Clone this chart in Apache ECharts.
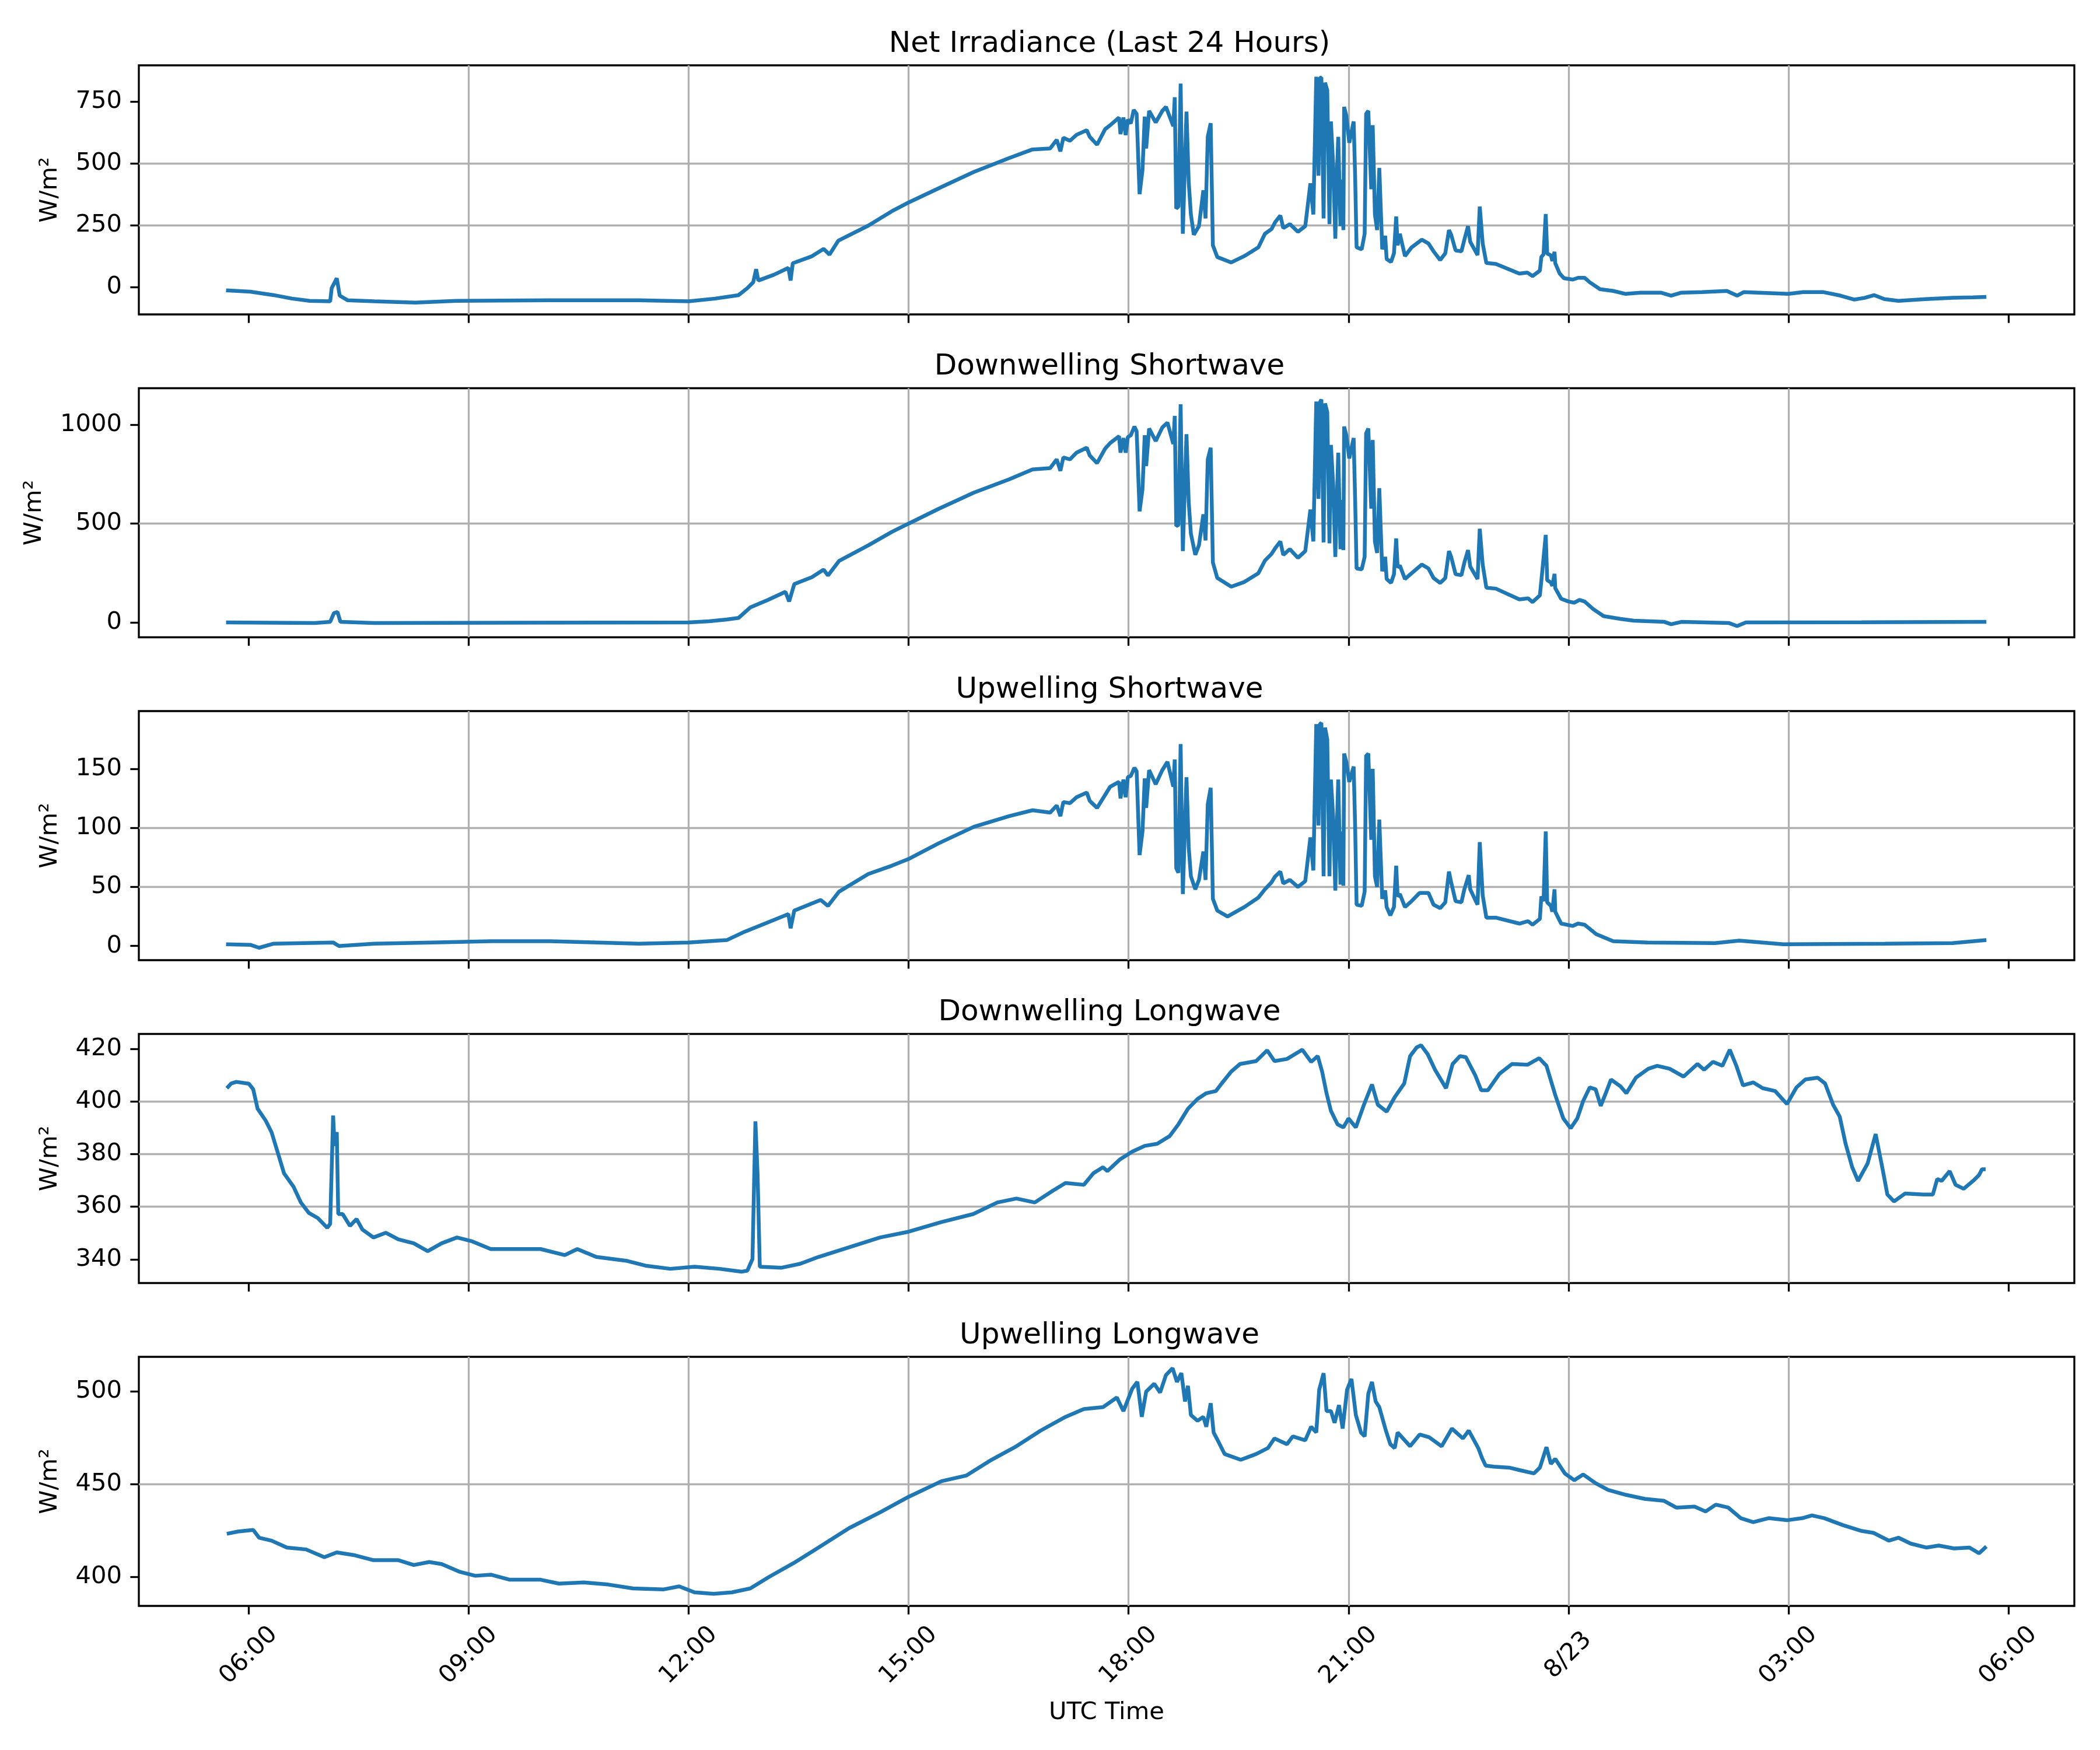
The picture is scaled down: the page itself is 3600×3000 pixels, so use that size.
<!DOCTYPE html>
<html>
<head>
<meta charset="utf-8">
<script src="https://cdn.jsdelivr.net/npm/echarts@6/dist/echarts.min.js"></script>
<style>
html, body { margin: 0; padding: 0; background: #fff; }
#chart { width: 3600px; height: 3000px; }
</style>
</head>
<body>
<div id="chart"></div>
<script>
// every point is [hours since 8/22 00:00 UTC, W/m²]
const netIrradiance = [
    [5.69,-14],[6.02,-19],[6.34,-33],[6.59,-47],[6.83,-56],[7.11,-58],[7.13,-5],[7.20,35],[7.24,-35],[7.35,-54],
    [7.71,-58],[8.27,-63],[8.83,-56],[10.1,-54],[11.32,-54],[12.0,-58],[12.36,-47],[12.68,-33],[12.80,-5],[12.88,19],
    [12.92,72],[12.95,26],[13.16,49],[13.36,77],[13.39,26],[13.42,96],[13.68,124],[13.84,154],[13.92,131],[14.04,187],
    [14.45,248],[14.77,306],[15.01,343],[15.41,399],[15.89,465],[16.37,521],[16.69,556],[16.93,560],[17.02,595],[17.07,548],
    [17.11,603],[17.2,591],[17.29,615],[17.43,634],[17.47,607],[17.57,575],[17.68,638],[17.75,654],[17.87,685],[17.89,618],
    [17.93,685],[17.96,614],[17.99,677],[18.03,661],[18.07,716],[18.11,700],[18.15,375],[18.19,473],[18.22,689],[18.24,560],
    [18.28,712],[18.37,665],[18.46,712],[18.51,728],[18.61,650],[18.63,767],[18.65,317],[18.68,325],[18.71,822],[18.74,215],
    [18.79,709],[18.82,426],[18.85,293],[18.89,211],[18.96,246],[19.02,391],[19.05,277],[19.08,607],[19.12,662],[19.15,168],
    [19.21,121],[19.40,99],[19.58,125],[19.77,160],[19.86,215],[19.95,234],[20.0,262],[20.07,289],[20.11,238],[20.2,254],
    [20.31,223],[20.41,246],[20.48,419],[20.52,293],[20.56,850],[20.59,450],[20.61,846],[20.63,846],[20.66,277],[20.68,826],
    [20.71,795],[20.74,254],[20.76,669],[20.79,497],[20.82,195],[20.84,450],[20.86,607],[20.89,246],[20.91,434],[20.93,230],
    [20.94,728],[20.97,693],[21.01,583],[21.07,669],[21.09,450],[21.11,160],[21.18,152],[21.22,215],[21.24,700],[21.27,712],
    [21.31,395],[21.33,654],[21.36,293],[21.39,230],[21.42,481],[21.46,152],[21.5,207],[21.52,113],[21.58,101],[21.62,136],
    [21.65,285],[21.67,168],[21.7,215],[21.77,125],[21.86,160],[22.0,191],[22.09,176],[22.16,144],[22.25,109],[22.32,136],
    [22.37,230],[22.4,211],[22.46,148],[22.54,144],[22.58,191],[22.63,246],[22.66,183],[22.76,129],[22.79,325],[22.83,176],
    [22.88,97],[23.01,93],[23.33,54],[23.44,58],[23.51,44],[23.61,66],[23.63,121],[23.66,132],[23.69,295],[23.71,135],
    [23.76,128],[23.78,105],[23.81,142],[23.82,96],[23.88,54],[23.94,35],[24.06,30],[24.13,37],[24.22,37],[24.29,19],
    [24.43,-9],[24.61,-16],[24.78,-28],[24.98,-23],[25.26,-23],[25.40,-35],[25.54,-23],[25.82,-21],[26.16,-16],[26.30,-35],
    [26.39,-21],[27.0,-28],[27.2,-21],[27.48,-21],[27.71,-35],[27.9,-51],[28.04,-44],[28.17,-33],[28.31,-49],[28.5,-56],
    [28.87,-49],[29.24,-44],[29.52,-42],[29.70,-40]
];
const downShortwave = [
    [5.69,0],[6.9,-3],[7.11,3],[7.16,47],[7.21,53],[7.25,3],[7.71,-3],[9.5,-1],[12.0,0],[12.28,6],
    [12.52,15],[12.68,23],[12.84,76],[13.08,114],[13.32,155],[13.37,106],[13.44,194],[13.68,229],[13.84,267],[13.90,238],
    [14.05,311],[14.45,390],[14.77,458],[15.01,502],[15.41,575],[15.89,657],[16.37,724],[16.69,774],[16.93,781],[17.02,825],
    [17.07,767],[17.11,835],[17.20,825],[17.29,859],[17.43,884],[17.47,845],[17.57,806],[17.68,879],[17.75,908],[17.87,942],
    [17.89,859],[17.93,933],[17.96,859],[17.99,938],[18.03,947],[18.08,991],[18.11,967],[18.15,562],[18.19,674],[18.22,947],
    [18.24,791],[18.28,981],[18.37,918],[18.46,986],[18.53,1011],[18.61,903],[18.63,1045],[18.65,488],[18.68,493],[18.71,1104],
    [18.74,361],[18.79,952],[18.82,610],[18.85,449],[18.91,342],[18.96,391],[19.02,547],[19.05,415],[19.08,825],[19.12,884],
    [19.15,303],[19.21,225],[19.40,181],[19.58,205],[19.77,249],[19.86,313],[19.95,347],[20.0,376],[20.07,410],[20.11,342],
    [20.2,371],[20.31,327],[20.41,361],[20.48,571],[20.52,410],[20.56,1118],[20.59,625],[20.61,1113],[20.63,1128],[20.66,405],
    [20.68,1108],[20.71,1064],[20.74,400],[20.76,898],[20.79,703],[20.82,332],[20.84,615],[20.86,859],[20.89,371],[20.91,620],
    [20.93,366],[20.94,991],[20.97,947],[21.01,830],[21.07,933],[21.09,625],[21.11,273],[21.18,269],[21.22,332],[21.24,957],
    [21.27,981],[21.31,576],[21.33,923],[21.36,410],[21.39,352],[21.42,679],[21.46,259],[21.5,332],[21.52,220],[21.58,200],
    [21.62,244],[21.65,425],[21.67,278],[21.70,288],[21.77,220],[21.86,249],[22.0,293],[22.09,273],[22.16,225],[22.25,200],
    [22.32,225],[22.37,361],[22.40,332],[22.46,244],[22.54,239],[22.58,303],[22.63,366],[22.66,283],[22.76,220],[22.79,474],
    [22.83,293],[22.88,176],[23.01,171],[23.33,117],[23.45,122],[23.51,103],[23.61,137],[23.63,210],[23.69,443],[23.71,214],
    [23.76,202],[23.78,185],[23.81,246],[23.82,173],[23.90,120],[24.0,106],[24.08,100],[24.15,114],[24.22,106],[24.34,67],
    [24.48,32],[24.71,18],[24.89,9],[25.31,3],[25.40,-9],[25.54,3],[26.19,-3],[26.30,-18],[26.42,0],[28.0,1],
    [29.70,3]
];
const upShortwave = [
    [5.69,1.5],[6.02,1],[6.14,-1.5],[6.34,2],[7.15,3],[7.23,0],[7.71,2],[8.5,3],[9.31,4],[10.11,4],
    [11.32,2],[12.0,3],[12.52,5],[12.76,12],[13.08,20],[13.36,27],[13.39,15],[13.44,30],[13.80,39],[13.90,34],
    [14.05,46],[14.45,61],[14.77,68],[15.01,74],[15.41,87],[15.89,101],[16.37,110],[16.69,115],[16.93,113],[17.02,119],
    [17.07,110],[17.11,122],[17.20,121],[17.29,126],[17.43,130],[17.47,123],[17.57,117],[17.68,128],[17.75,135],[17.87,139],
    [17.89,125],[17.93,141],[17.96,126],[17.99,143],[18.03,144],[18.08,151],[18.11,148],[18.15,77],[18.19,97],[18.22,142],
    [18.24,117],[18.28,149],[18.37,137],[18.46,149],[18.53,156],[18.61,135],[18.63,158],[18.65,66],[18.68,62],[18.71,171],
    [18.74,44],[18.79,143],[18.82,84],[18.85,59],[18.91,48],[18.96,56],[19.02,80],[19.05,56],[19.08,120],[19.12,134],
    [19.15,40],[19.21,30],[19.35,25],[19.58,33],[19.77,41],[19.86,48],[19.95,54],[20.0,59],[20.07,63],[20.11,53],
    [20.2,56],[20.31,50],[20.41,55],[20.48,92],[20.52,64],[20.56,188],[20.59,102],[20.61,188],[20.63,189],[20.66,59],
    [20.68,185],[20.71,175],[20.74,59],[20.76,141],[20.79,110],[20.82,47],[20.84,99],[20.86,141],[20.89,52],[20.91,97],
    [20.93,51],[20.94,163],[20.97,156],[21.01,139],[21.07,152],[21.09,102],[21.11,35],[21.18,34],[21.22,46],[21.24,161],
    [21.27,163],[21.31,90],[21.33,150],[21.36,59],[21.39,50],[21.42,107],[21.46,40],[21.5,47],[21.52,33],[21.57,26],
    [21.62,33],[21.65,68],[21.67,42],[21.70,44],[21.77,33],[21.86,38],[21.97,45],[22.09,45],[22.16,35],[22.25,32],
    [22.32,37],[22.37,63],[22.40,54],[22.46,38],[22.54,37],[22.58,48],[22.64,60],[22.66,48],[22.76,35],[22.79,88],
    [22.83,43],[22.88,24],[23.01,24],[23.33,19],[23.45,21],[23.51,18],[23.61,23],[23.63,42],[23.66,38],[23.69,97],
    [23.71,37],[23.76,34],[23.78,29],[23.81,48],[23.82,29],[23.90,19],[24.06,17],[24.13,19],[24.22,18],[24.38,10],
    [24.61,4],[25.08,3],[26.0,2.5],[26.33,4.5],[26.93,1.5],[28.32,2],[29.24,2.5],[29.70,5]
];
const downLongwave = [
    [5.70,405.0],[5.76,406.8],[5.83,407.4],[6.0,406.7],[6.06,404.6],[6.12,397.2],[6.23,392.7],[6.31,388.3],[6.40,380.1],[6.48,372.7],
    [6.61,367.6],[6.71,361.6],[6.82,357.6],[6.94,355.7],[7.07,352.0],[7.11,353.5],[7.15,394.6],[7.17,383.1],[7.20,388.3],[7.22,357.2],
    [7.28,357.2],[7.38,352.7],[7.47,355.3],[7.55,351.3],[7.70,348.3],[7.87,350.1],[8.04,347.6],[8.25,346.1],[8.44,343.1],[8.63,346.1],
    [8.84,348.3],[9.05,346.8],[9.30,343.9],[9.56,343.9],[9.98,343.9],[10.31,341.6],[10.48,343.9],[10.74,340.9],[11.16,339.4],[11.41,337.6],
    [11.75,336.4],[12.08,337.2],[12.42,336.4],[12.72,335.3],[12.80,335.7],[12.87,340.1],[12.91,392.4],[12.94,372.0],[12.97,337.2],[13.26,336.8],
    [13.52,338.3],[13.77,340.9],[14.19,344.6],[14.61,348.3],[15.0,350.5],[15.45,354.2],[15.88,357.2],[16.21,361.6],[16.47,363.1],[16.72,361.6],
    [16.97,366.1],[17.14,369.0],[17.39,368.3],[17.52,372.7],[17.65,375.0],[17.71,373.5],[17.88,377.9],[18.05,380.9],[18.22,383.1],[18.39,383.9],
    [18.56,386.8],[18.68,391.3],[18.81,397.2],[18.94,400.9],[19.06,403.1],[19.19,403.9],[19.27,406.8],[19.40,411.3],[19.52,414.2],[19.74,415.3],
    [19.89,419.4],[19.99,415.3],[20.16,416.1],[20.37,419.6],[20.49,415.0],[20.58,417.2],[20.64,411.3],[20.70,403.1],[20.76,396.4],[20.85,391.3],
    [20.93,390.1],[21.0,393.5],[21.10,390.1],[21.21,398.7],[21.32,406.4],[21.40,398.7],[21.52,396.1],[21.63,401.6],[21.76,406.8],[21.84,417.2],
    [21.93,420.5],[21.99,421.3],[22.08,417.9],[22.18,412.0],[22.33,405.0],[22.42,414.2],[22.52,417.2],[22.60,416.8],[22.73,409.8],[22.81,404.2],
    [22.90,404.2],[23.06,410.5],[23.23,414.2],[23.44,413.9],[23.60,416.4],[23.70,413.5],[23.82,402.4],[23.93,393.5],[24.03,389.8],[24.12,393.5],
    [24.20,400.1],[24.29,405.3],[24.37,404.6],[24.44,398.3],[24.52,403.9],[24.58,408.3],[24.71,405.7],[24.79,403.1],[24.92,409.0],[25.09,412.4],
    [25.21,413.5],[25.38,412.4],[25.57,409.4],[25.76,414.2],[25.85,412.0],[25.97,415.0],[26.10,413.5],[26.20,419.6],[26.29,413.5],[26.38,406.1],
    [26.52,407.2],[26.65,405.0],[26.82,403.9],[26.98,399.0],[27.11,405.3],[27.23,408.3],[27.40,409.0],[27.50,406.8],[27.61,398.7],[27.70,394.2],
    [27.78,383.9],[27.87,375.0],[27.95,369.8],[28.08,376.4],[28.19,387.6],[28.29,373.5],[28.35,364.6],[28.44,362.0],[28.59,365.0],[28.84,364.6],
    [28.97,364.6],[29.03,370.5],[29.09,369.8],[29.20,373.5],[29.28,368.3],[29.39,366.8],[29.52,369.8],[29.60,372.0],[29.64,374.2],[29.69,374.2]
];
const upLongwave = [
    [5.70,423.3],[5.85,424.5],[6.06,425.4],[6.14,421.2],[6.31,419.6],[6.52,415.9],[6.78,414.9],[7.03,410.7],[7.20,413.3],[7.45,411.7],
    [7.70,409.1],[8.04,409.1],[8.25,406.5],[8.46,408.1],[8.63,407.0],[8.88,402.8],[9.09,400.7],[9.30,401.3],[9.56,398.6],[9.98,398.6],
    [10.23,396.5],[10.57,397.1],[10.90,396.0],[11.24,393.9],[11.66,393.4],[11.87,395.0],[12.08,391.8],[12.34,391.0],[12.59,391.8],[12.84,393.9],
    [13.10,400.2],[13.43,407.5],[13.77,415.9],[14.19,426.4],[14.61,434.8],[15.0,443.2],[15.45,451.6],[15.79,454.7],[16.13,463.1],[16.47,470.4],
    [16.80,478.8],[17.14,486.2],[17.39,490.4],[17.65,491.4],[17.84,496.6],[17.93,489.3],[18.05,501.4],[18.12,505.0],[18.18,486.2],[18.24,499.8],
    [18.35,504.0],[18.43,499.3],[18.51,508.7],[18.60,512.4],[18.66,505.0],[18.72,509.7],[18.77,494.5],[18.81,502.9],[18.85,487.2],[18.94,484.1],
    [19.02,486.2],[19.06,480.9],[19.12,493.5],[19.16,477.8],[19.23,472.5],[19.31,466.2],[19.53,463.1],[19.74,466.2],[19.90,469.4],[19.99,474.6],
    [20.16,471.5],[20.24,475.7],[20.41,473.6],[20.49,480.9],[20.56,477.8],[20.60,500.8],[20.66,509.7],[20.70,489.3],[20.76,489.3],[20.81,483.0],
    [20.87,492.5],[20.92,479.9],[20.98,500.8],[21.04,506.6],[21.10,487.2],[21.17,477.8],[21.22,475.7],[21.27,498.7],[21.32,505.0],[21.37,494.5],
    [21.42,491.4],[21.51,478.8],[21.57,471.5],[21.63,469.4],[21.67,477.8],[21.84,470.4],[21.97,476.7],[22.10,475.2],[22.27,470.4],[22.41,479.9],
    [22.56,474.6],[22.64,478.8],[22.77,469.4],[22.82,464.2],[22.87,460.0],[22.98,459.4],[23.19,458.9],[23.36,457.3],[23.53,455.8],[23.61,458.9],
    [23.70,469.9],[23.76,460.9],[23.82,463.6],[23.95,455.8],[24.08,452.1],[24.20,455.2],[24.37,450.5],[24.54,446.9],[24.79,444.2],[25.04,442.1],
    [25.30,441.1],[25.47,437.4],[25.72,437.9],[25.87,435.3],[26.01,439.0],[26.18,437.4],[26.35,431.7],[26.52,429.6],[26.73,431.7],[26.98,430.6],
    [27.19,431.7],[27.32,433.2],[27.49,431.7],[27.74,428.0],[28.00,424.8],[28.16,423.8],[28.37,419.6],[28.50,421.2],[28.67,418.0],[28.88,415.9],
    [29.05,417.0],[29.26,415.4],[29.47,415.9],[29.60,412.8],[29.70,416.5]
];

const panelTitles = ['Net Irradiance (Last 24 Hours)', 'Downwelling Shortwave', 'Upwelling Shortwave', 'Downwelling Longwave', 'Upwelling Longwave'];
const panelData = [netIrradiance, downShortwave, upShortwave, downLongwave, upLongwave];
const yRanges = [[-111, 896], [-75, 1185], [-12, 199], [331, 425.6], [384.5, 518.5]];
const yTicks = [[0, 250, 500, 750], [0, 500, 1000], [0, 50, 100, 150], [340, 360, 380, 400, 420], [400, 450, 500]];
const timeTicks = [6, 9, 12, 15, 18, 21, 24, 27, 30];
const timeRange = [4.5, 30.9];

const FONT = 'DejaVu Sans';
const gridTops = [112, 665.5, 1219, 1772.5, 2326];
const gridLeft = 238, gridWidth = 3318, gridHeight = 427;

function timeLabel(v) {
    let h = Math.round(v);
    if (h % 24 === 0) return '8/' + (22 + h / 24);
    h = h % 24;
    return (h < 10 ? '0' : '') + h + ':00';
}

let grids = [], xAxes = [], yAxes = [], series_list = [], titles = [];
for (let i = 0; i < 5; i++) {
    let isLast = (i === 4);
    grids.push({
        left: gridLeft, top: gridTops[i], width: gridWidth, height: gridHeight,
        show: true, borderColor: '#000', borderWidth: 3.3, backgroundColor: 'transparent'
    });
    titles.push({
        text: panelTitles[i],
        left: gridLeft + gridWidth / 2,
        top: gridTops[i] - 66,
        textAlign: 'center',
        textStyle: { fontSize: 50, lineHeight: 50, fontWeight: 'normal', color: '#000', fontFamily: FONT }
    });
    xAxes.push({
        type: 'value', gridIndex: i, position: 'bottom',
        min: timeRange[0], max: timeRange[1],
        minInterval: 3, maxInterval: 3,
        axisLine: { show: false, onZero: false },
        axisTick: { show: true, inside: false, length: 14.6, customValues: timeTicks, lineStyle: { color: '#000', width: 3.3 } },
        axisLabel: {
            show: isLast, customValues: timeTicks, rotate: 45, align: 'center', verticalAlign: 'middle',
            margin: 85, fontSize: 41.7, color: '#000', fontFamily: FONT,
            formatter: timeLabel
        },
        splitLine: { show: true, showMinLine: false, showMaxLine: false, lineStyle: { color: '#b0b0b0', width: 3.3 } },
        name: isLast ? 'UTC Time' : '',
        nameLocation: 'middle', nameGap: 162,
        nameTextStyle: { fontSize: 41.7, color: '#000', fontFamily: FONT }
    });
    let step = yTicks[i][1] - yTicks[i][0];
    yAxes.push({
        type: 'value', gridIndex: i, position: 'left',
        min: yRanges[i][0], max: yRanges[i][1],
        minInterval: step, maxInterval: step,
        axisLine: { show: false, onZero: false },
        axisTick: { show: true, inside: false, length: 14.6, customValues: yTicks[i], lineStyle: { color: '#000', width: 3.3 } },
        axisLabel: {
            customValues: yTicks[i], margin: 29, fontSize: 41.7, color: '#000', fontFamily: FONT,
            formatter: function (v) { return String(v); }
        },
        splitLine: { show: true, showMinLine: false, showMaxLine: false, lineStyle: { color: '#b0b0b0', width: 3.3 } },
        name: 'W/m²', nameLocation: 'middle', nameRotate: 90,
        nameGap: i === 1 ? 158 : 131,
        nameTextStyle: { fontSize: 41.7, color: '#000', fontFamily: FONT }
    });
    series_list.push({
        type: 'line', xAxisIndex: i, yAxisIndex: i,
        data: panelData[i],
        showSymbol: false, symbol: 'none',
        lineStyle: { color: '#1f77b4', width: 6.5 },
        itemStyle: { color: '#1f77b4' },
        z: 5
    });
}

let myChart = echarts.init(document.getElementById('chart'), null, { renderer: 'canvas' });
myChart.setOption({
    animation: false,
    backgroundColor: '#fff',
    title: titles,
    grid: grids,
    xAxis: xAxes,
    yAxis: yAxes,
    series: series_list
});
</script>
</body>
</html>
